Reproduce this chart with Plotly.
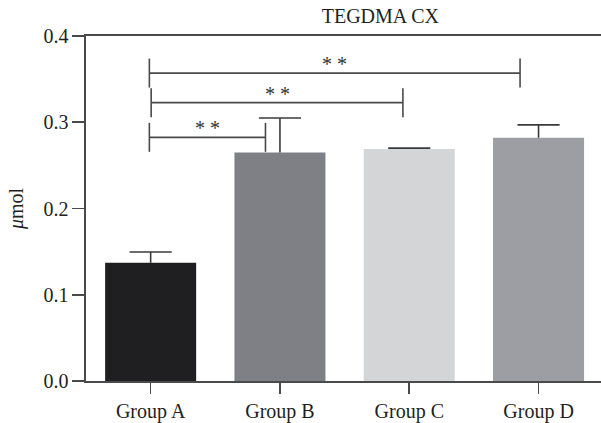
import plotly.graph_objects as go

# ---- data ----
groups = ["Group A", "Group B", "Group C", "Group D"]
means = [0.137, 0.265, 0.269, 0.282]
errors = [0.0125, 0.040, 0.001, 0.015]
bar_colors = ["#1f1f21", "#7f8085", "#d4d5d7", "#9c9ea4"]

y_ticks = [0.0, 0.1, 0.2, 0.3, 0.4]

# significance brackets (x in category-index units)
bracket_x_start = [-0.01, 0.004, -0.01]
bracket_x_end = [0.888, 1.951, 2.857]
bracket_y = [0.2825, 0.3227, 0.357]
bracket_half_tick = 0.0168
bracket_labels = ["* *", "* *", "* *"]

FONT = "Liberation Serif"
TXT = "#231f20"
LINE = "#4a4a4a"
ERR = "#3a3a3a"
CAP_HALF = 0.163  # half cap width, category units

xs = list(range(len(groups)))

fig = go.Figure()
fig.add_trace(go.Bar(
    x=xs, y=means, width=0.704,
    marker=dict(color=bar_colors, line=dict(width=0)),
    showlegend=False, hoverinfo="skip",
))

# one-sided (upper) error bars, built from the data
ex, ey = [], []
for x, m, e in zip(xs, means, errors):
    ex += [x, x, None, x - CAP_HALF, x + CAP_HALF, None]
    ey += [m, m + e, None, m + e, m + e, None]
fig.add_trace(go.Scatter(x=ex, y=ey, mode="lines",
                         line=dict(color=ERR, width=1.6),
                         showlegend=False, hoverinfo="skip"))

for x0, x1, yb, lab in zip(bracket_x_start, bracket_x_end, bracket_y, bracket_labels):
    bx = [x0, x1, None, x0, x0, None, x1, x1]
    by = [yb, yb, None, yb - bracket_half_tick, yb + bracket_half_tick, None,
          yb - bracket_half_tick, yb + bracket_half_tick]
    fig.add_trace(go.Scatter(x=bx, y=by, mode="lines",
                             line=dict(color=LINE, width=1.6),
                             showlegend=False, hoverinfo="skip"))
    fig.add_annotation(x=(x0 + x1) / 2, y=yb, text=lab, showarrow=False,
                       yanchor="bottom", yshift=-4,
                       font=dict(family=FONT, size=20, color="#333333"))

fig.update_layout(
    width=601, height=423,
    margin=dict(l=86, r=0, t=36, b=42, autoexpand=False),
    paper_bgcolor="white", plot_bgcolor="white",
    font=dict(family=FONT, size=20, color=TXT),
    title=dict(text="TEGDMA CX", x=(86 + 601) / 2 / 601, xanchor="center",
               xref="paper", y=1 - 16 / 423, yanchor="middle", automargin=False,
               font=dict(family=FONT, size=20, color=TXT)),
)
fig.update_xaxes(
    range=[-0.5, 3.483], tickmode="array", tickvals=xs, ticktext=groups,
    showline=True, linecolor=LINE, linewidth=1.6, mirror=True,
    ticks="outside", ticklen=11, tickwidth=1.6, tickcolor=LINE,
    showgrid=False, zeroline=False, automargin=False,
    tickfont=dict(family=FONT, size=20, color=TXT),
)
fig.update_yaxes(
    range=[0, 0.4], tickmode="array", tickvals=y_ticks,
    ticktext=[f"{v:.1f}" for v in y_ticks],
    showline=True, linecolor=LINE, linewidth=1.6,
    ticks="outside", ticklen=12, tickwidth=1.6, tickcolor=LINE,
    showgrid=False, zeroline=False, automargin=False,
    tickfont=dict(family=FONT, size=20, color=TXT),
    title=dict(text="<i>μ</i>mol", standoff=14,
               font=dict(family=FONT, size=20, color=TXT)),
)

fig.write_html("out.html", config={"displayModeBar": False, "staticPlot": True},
               post_script="document.body.style.margin='0';document.body.style.overflow='hidden';")
